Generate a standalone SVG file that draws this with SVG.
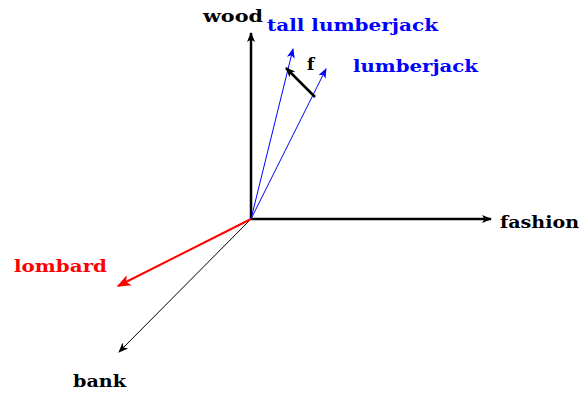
<svg xmlns="http://www.w3.org/2000/svg" width="581" height="395" viewBox="0 0 581 395">
<defs>
<marker id="ak" viewBox="0 0 10 10" refX="9" refY="5" markerWidth="10" markerHeight="10" markerUnits="userSpaceOnUse" orient="auto"><path d="M0,1 L10,5 L0,9 L2.5,5 Z" fill="#000"/></marker>
<marker id="ab" viewBox="0 0 10 10" refX="9" refY="5" markerWidth="10" markerHeight="10" markerUnits="userSpaceOnUse" orient="auto"><path d="M0,1 L10,5 L0,9 L2.5,5 Z" fill="#0000ff"/></marker>
<marker id="ar" viewBox="0 0 10 10" refX="9" refY="5" markerWidth="14" markerHeight="14" markerUnits="userSpaceOnUse" orient="auto"><path d="M0,1 L10,5 L0,9 L2.5,5 Z" fill="#ff0000"/></marker>
</defs>
<style>
text{font-family:"DejaVu Serif",serif;font-weight:bold;font-size:17px}
.k{fill:#000}.b{fill:#0000ff}.r{fill:#ff0000}
</style>
<g id="connectors" fill="none">
<line x1="251" y1="219" x2="251" y2="33" stroke="#000" stroke-width="2.5" marker-end="url(#ak)"/>
<line x1="251" y1="219" x2="491" y2="219" stroke="#000" stroke-width="2.5" marker-end="url(#ak)"/>
<line x1="251" y1="219" x2="119" y2="352" stroke="#000" stroke-width="1" marker-end="url(#ak)"/>
<line x1="251" y1="219" x2="118" y2="286" stroke="#ff0000" stroke-width="2" marker-end="url(#ar)"/>
<line x1="251" y1="219" x2="293" y2="49" stroke="#0000ff" stroke-width="1" marker-end="url(#ab)"/>
<line x1="251" y1="219" x2="326" y2="69" stroke="#0000ff" stroke-width="1" marker-end="url(#ab)"/>
<line x1="315" y1="97" x2="286" y2="68" stroke="#000" stroke-width="2.5" marker-end="url(#ak)"/>
</g>
<g id="wood"><text class="k" x="203" y="22" textLength="60" lengthAdjust="spacingAndGlyphs">wood</text></g>
<g id="fashion"><text class="k" x="500" y="228" textLength="79" lengthAdjust="spacingAndGlyphs">fashion</text></g>
<g id="bank"><text class="k" x="73" y="387" textLength="53" lengthAdjust="spacingAndGlyphs">bank</text></g>
<g id="lombard"><text class="r" x="14" y="272" textLength="93" lengthAdjust="spacingAndGlyphs">lombard</text></g>
<g id="tall-lumberjack"><text class="b" x="267" y="31" textLength="171" lengthAdjust="spacingAndGlyphs">tall lumberjack</text></g>
<g id="lumberjack"><text class="b" x="353" y="72" textLength="125" lengthAdjust="spacingAndGlyphs">lumberjack</text></g>
<g id="f"><text class="k" x="307" y="70">f</text></g>
</svg>
